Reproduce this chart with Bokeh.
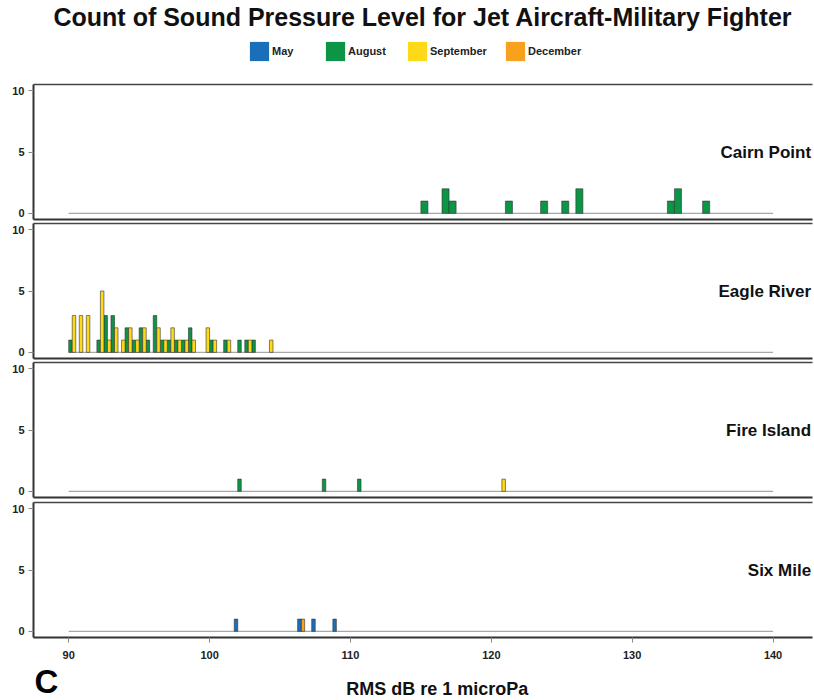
from bokeh.plotting import figure
from bokeh.models import Range1d, Legend, LegendItem, LinearAxis, Label, FixedTicker, Title
from bokeh.layouts import column
from bokeh.embed import file_html
from bokeh.resources import INLINE
from bokeh.core.properties import value

# ---------------- data ----------------
title_text = "Count of Sound Pressure Level for Jet Aircraft-Military Fighter"
x_label = "RMS dB re 1 microPa"
panel_tag = "C"
series_names = ["May", "August", "September", "December"]
series_colors = ["#1b6fb9", "#0d9446", "#fed918", "#f8a11c"]
sites = ["Cairn Point", "Eagle River", "Fire Island", "Six Mile"]
x_ticks = [90, 100, 110, 120, 130, 140]
y_ticks = [0, 5, 10]
bin_width = 0.5

# bin start (dB) and count per site / month
cairn_august_bins = [115.0, 116.5, 117.0, 121.0, 123.5, 125.0, 126.0, 132.5, 133.0, 135.0]
cairn_august_counts = [1, 2, 1, 1, 1, 1, 2, 1, 2, 1]

eagle_august_bins = [90.0, 92.0, 92.5, 93.0, 94.0, 94.5, 95.0, 95.5, 96.0, 96.5,
                     97.0, 97.5, 98.0, 98.5, 100.0, 101.0, 102.0, 102.5, 103.0]
eagle_august_counts = [1, 1, 3, 3, 2, 1, 2, 1, 3, 1,
                       1, 1, 1, 2, 1, 1, 1, 1, 1]
eagle_september_bins = [90.0, 90.5, 91.0, 92.0, 92.5, 93.0, 93.5, 94.0, 94.5, 95.0,
                        96.0, 96.5, 97.0, 97.5, 98.0, 98.5, 99.5, 100.0, 101.0, 102.5, 104.0]
eagle_september_counts = [3, 3, 3, 5, 1, 2, 1, 2, 1, 2,
                          2, 1, 2, 1, 1, 1, 2, 1, 1, 1, 1]

fire_august_bins = [102.0, 108.0, 110.5]
fire_august_counts = [1, 1, 1]
fire_september_bins = [120.5]
fire_september_counts = [1]

six_december_bins = [106.5]
six_december_counts = [1]
six_may_bins = [101.5, 106.0, 107.0, 108.5]
six_may_counts = [1, 1, 1, 1]

# per panel: list of (month, bins, counts) in dodge order
panels = [
    [("August", cairn_august_bins, cairn_august_counts)],
    [("August", eagle_august_bins, eagle_august_counts),
     ("September", eagle_september_bins, eagle_september_counts)],
    [("August", fire_august_bins, fire_august_counts),
     ("September", fire_september_bins, fire_september_counts)],
    [("December", six_december_bins, six_december_counts),
     ("May", six_may_bins, six_may_counts)],
]

color_of = dict(zip(series_names, series_colors))
FONT = "Liberation Sans"
W = 814

# ---------------- header (title + legend) ----------------
header = figure(width=W, height=82, x_range=Range1d(0, 1), y_range=Range1d(0, 1),
                output_backend="svg", toolbar_location=None,
                x_axis_location=None, y_axis_location=None,
                min_border_left=33, min_border_right=2, min_border_top=0, min_border_bottom=0)
header.grid.visible = False
header.outline_line_color = None
header.title = Title(text=title_text, align="center", text_font=FONT,
                     text_font_size="25px", text_font_style="bold", text_color="#111111",
                     standoff=0, offset=0)

legend_x = [214, 290, 372, 470]
for name, lx in zip(series_names, legend_x):
    # swatch renderer kept outside the visible range; only its legend key is shown
    r = header.quad(left=[-3], right=[-2], top=[-2], bottom=[-3],
                    fill_color=color_of[name], line_color=None)
    lg = Legend(items=[LegendItem(label=name, renderers=[r])], location=(lx, 19),
                orientation="horizontal", glyph_width=24, glyph_height=24,
                label_height=24, label_standoff=1, padding=0, margin=0,
                border_line_color=None, background_fill_alpha=0,
                label_text_font=FONT, label_text_font_size="11px",
                label_text_font_style="bold", label_text_color="#222222")
    header.add_layout(lg)

# ---------------- panels ----------------
figs = [header]
heights = [139, 139, 139, 164]
tops = [2, 2, 2, 3]
bottoms = [2, 2, 2, 26]

for i, (site, series) in enumerate(zip(sites, panels)):
    last = i == len(sites) - 1
    p = figure(width=W, height=heights[i], x_range=Range1d(87.5, 142.8),
               y_range=Range1d(-0.5, 10.5), output_backend="svg", toolbar_location=None,
               x_axis_location=None, y_axis_location=None,
               min_border_left=33, min_border_right=2,
               min_border_top=tops[i], min_border_bottom=bottoms[i])
    p.grid.visible = False
    p.outline_line_color = None

    ya = LinearAxis(ticker=FixedTicker(ticks=y_ticks), axis_line_color="#333333",
                    axis_line_width=2, major_tick_line_color="#888888",
                    major_tick_out=5, major_tick_in=0, minor_tick_out=0, minor_tick_in=0,
                    major_label_text_font=FONT, major_label_text_font_size="11px",
                    major_label_text_font_style="bold", major_label_text_color="#222222",
                    major_label_standoff=4)
    p.add_layout(ya, "left")

    ta = LinearAxis(ticker=FixedTicker(ticks=[]), axis_line_color="#444444",
                    axis_line_width=1.5, major_tick_out=0, major_tick_in=0,
                    minor_tick_out=0, minor_tick_in=0, major_label_standoff=0)
    p.add_layout(ta, "above")

    if last:
        xa = LinearAxis(ticker=FixedTicker(ticks=x_ticks), axis_line_color="#333333",
                        axis_line_width=2, major_tick_line_color="#888888",
                        major_tick_out=5, major_tick_in=0, minor_tick_out=0, minor_tick_in=0,
                        major_label_text_font=FONT, major_label_text_font_size="11px",
                        major_label_text_font_style="bold", major_label_text_color="#222222",
                        major_label_standoff=8)
    else:
        xa = LinearAxis(ticker=FixedTicker(ticks=[]), axis_line_color="#333333",
                        axis_line_width=2, major_tick_out=0, major_tick_in=0,
                        minor_tick_out=0, minor_tick_in=0, major_label_standoff=0)
    p.add_layout(xa, "below")

    p.segment(x0=[x_ticks[0]], x1=[x_ticks[-1]], y0=[0], y1=[0],
              line_color="#a8a8a8", line_width=1.2)

    n = len(series)
    sub = bin_width / n
    for slot, (month, bins, counts) in enumerate(series):
        left = [b + slot * sub for b in bins]
        right = [l + sub for l in left]
        p.quad(left=left, right=right, bottom=[0] * len(bins), top=counts,
               fill_color=color_of[month], line_color="#333333", line_width=0.7,
               line_alpha=0.85)

    p.add_layout(Label(x=142.7, y=5, text=site, text_align="right",
                       text_baseline="middle", text_font=FONT, text_font_size="17px",
                       text_font_style="bold", text_color="#111111"))
    figs.append(p)

# ---------------- footer (x-axis title + panel tag) ----------------
FH = 37
footer = figure(width=W, height=FH, x_range=Range1d(0, W), y_range=Range1d(0, FH),
                output_backend="svg", toolbar_location=None,
                x_axis_location=None, y_axis_location=None,
                min_border_left=0, min_border_right=0, min_border_top=0, min_border_bottom=0)
footer.grid.visible = False
footer.outline_line_color = None
footer.text(x=[422], y=[12], text=[x_label], text_align="center",
            text_baseline="middle", text_font=value(FONT), text_font_size="18px",
            text_font_style="bold", text_color="#111111")
footer.text(x=[1], y=[0.5], text=[panel_tag], text_align="left",
            text_baseline="bottom", text_font=value(FONT), text_font_size="33px",
            text_font_style="bold", text_color="#000000")
figs.append(footer)

layout = column(*figs, spacing=0)
open("out.html", "w").write(file_html(layout, INLINE))
